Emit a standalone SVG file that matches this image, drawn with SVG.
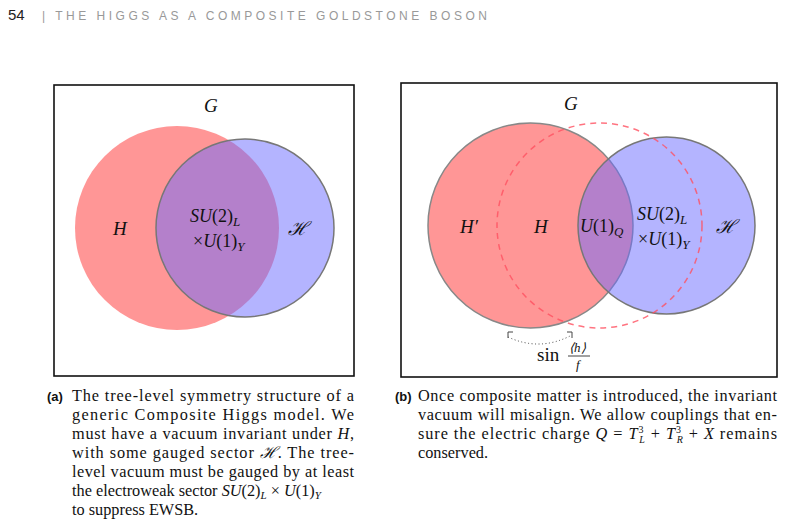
<svg xmlns="http://www.w3.org/2000/svg" width="785" height="531" viewBox="0 0 785 531">
<style>
.t{font-family:"Liberation Serif",serif;fill:#111}
.m{font-family:"Liberation Serif",serif;font-style:italic;fill:#111}
.c{font-family:"Liberation Serif",serif;font-size:16.3px;fill:#111}
.box{fill:none;stroke:#111;stroke-width:1.6}
.red{fill:#ff6a6a;fill-opacity:0.7}
.blue{fill:#6a6aff;fill-opacity:0.5;stroke:#777;stroke-width:1.5}
</style>
<rect width="785" height="531" fill="#fff"/>
<text x="8" y="20" font-family="Liberation Sans,sans-serif" font-size="15" fill="#222">54</text>
<text x="42" y="20" font-family="Liberation Sans,sans-serif" font-size="12" fill="#999" letter-spacing="3.5">| THE HIGGS AS A COMPOSITE GOLDSTONE BOSON</text>
<g id="panelA">
<rect class="box" x="54" y="85" width="300" height="291"/>
<text class="m" x="204" y="112" font-size="19">G</text>
<circle class="red" cx="177" cy="228" r="102"/>
<circle class="blue" cx="245" cy="228" r="89"/>
<text class="m" x="113" y="235" font-size="19">H</text>
<text class="m" x="190" y="222" font-size="18">SU<tspan font-style="normal">(2)</tspan><tspan font-size="13" dy="4">L</tspan></text>
<text class="m" x="193" y="247" font-size="18"><tspan font-style="normal">×</tspan>U<tspan font-style="normal">(1)</tspan><tspan font-size="13" dy="4">Y</tspan></text>
<text class="m" x="288" y="235" font-size="19">ℋ</text>
</g>
<g id="panelB">
<rect class="box" x="401" y="83" width="376" height="294"/>
<text class="m" x="564" y="110" font-size="19">G</text>
<circle class="red" cx="530.5" cy="225.5" r="102.5" stroke="#888" stroke-width="1.5"/>
<circle class="blue" cx="666.5" cy="225.5" r="88.5"/>
<circle cx="599.5" cy="225.5" r="102.5" fill="none" stroke="#ff5060" stroke-opacity="0.8" stroke-width="1.5" stroke-dasharray="6,5"/>
<text class="m" x="460" y="233" font-size="19">H′</text>
<text class="m" x="534" y="233" font-size="19">H</text>
<text class="m" x="580" y="232" font-size="18">U<tspan font-style="normal">(1)</tspan><tspan font-size="13" dy="4">Q</tspan></text>
<text class="m" x="637" y="220" font-size="18">SU<tspan font-style="normal">(2)</tspan><tspan font-size="13" dy="4">L</tspan></text>
<text class="m" x="638" y="245" font-size="18"><tspan font-style="normal">×</tspan>U<tspan font-style="normal">(1)</tspan><tspan font-size="13" dy="4">Y</tspan></text>
<text class="m" x="716" y="233" font-size="19">ℋ</text>
</g>
<g id="connectors">
<path d="M508,337 Q540,352 572,335" fill="none" stroke="#444" stroke-width="1" stroke-dasharray="1,2.5"/>
<path d="M508,338 L508,332 L513,332" fill="none" stroke="#444" stroke-width="1"/>
<path d="M567,332 L572,332 L572,338" fill="none" stroke="#444" stroke-width="1"/>
</g>
<g id="label-sin">
<text class="t" x="537" y="361" font-size="19">sin</text>
<text class="m" x="569" y="352" font-size="13">⟨h⟩</text>
<line x1="568" y1="356" x2="590" y2="356" stroke="#111" stroke-width="0.8"/>
<text class="m" x="576" y="369" font-size="13">f</text>
</g>
<g id="captionA" class="c">
<text x="47" y="401" font-family="Liberation Sans,sans-serif" font-weight="bold" font-size="13">(a)</text>
<text x="72" y="401" textLength="282" lengthAdjust="spacing">The tree-level symmetry structure of a</text>
<text x="72" y="420" textLength="282" lengthAdjust="spacing">generic Composite Higgs model.  We</text>
<text x="72" y="439" textLength="282" lengthAdjust="spacing">must have a vacuum invariant under <tspan font-style="italic">H</tspan>,</text>
<text x="72" y="458" textLength="282" lengthAdjust="spacing">with some gauged sector <tspan font-style="italic">ℋ</tspan>.  The tree-</text>
<text x="72" y="477" textLength="282" lengthAdjust="spacing">level vacuum must be gauged by at least</text>
<text x="72" y="496">the electroweak sector <tspan font-style="italic">SU</tspan>(2)<tspan font-style="italic" font-size="11" dy="3">L</tspan><tspan dy="-3"> × </tspan><tspan font-style="italic">U</tspan>(1)<tspan font-style="italic" font-size="11" dy="3">Y</tspan></text>
<text x="72" y="515">to suppress EWSB.</text>
</g>
<g id="captionB" class="c">
<text x="395" y="401" font-family="Liberation Sans,sans-serif" font-weight="bold" font-size="13">(b)</text>
<text x="418" y="401" textLength="359" lengthAdjust="spacing">Once composite matter is introduced, the invariant</text>
<text x="418" y="420" textLength="359" lengthAdjust="spacing">vacuum will misalign. We allow couplings that en-</text>
<text x="418" y="439" textLength="359" lengthAdjust="spacing">sure the electric charge <tspan font-style="italic">Q</tspan> = <tspan font-style="italic">T</tspan><tspan font-size="10" dy="-6">3</tspan><tspan font-style="italic" font-size="10" dx="-5" dy="10">L</tspan><tspan dy="-4"> + </tspan><tspan font-style="italic">T</tspan><tspan font-size="10" dy="-6">3</tspan><tspan font-style="italic" font-size="10" dx="-5" dy="10">R</tspan><tspan dy="-4"> + </tspan><tspan font-style="italic">X</tspan> remains</text>
<text x="418" y="458">conserved.</text>
</g>
</svg>
